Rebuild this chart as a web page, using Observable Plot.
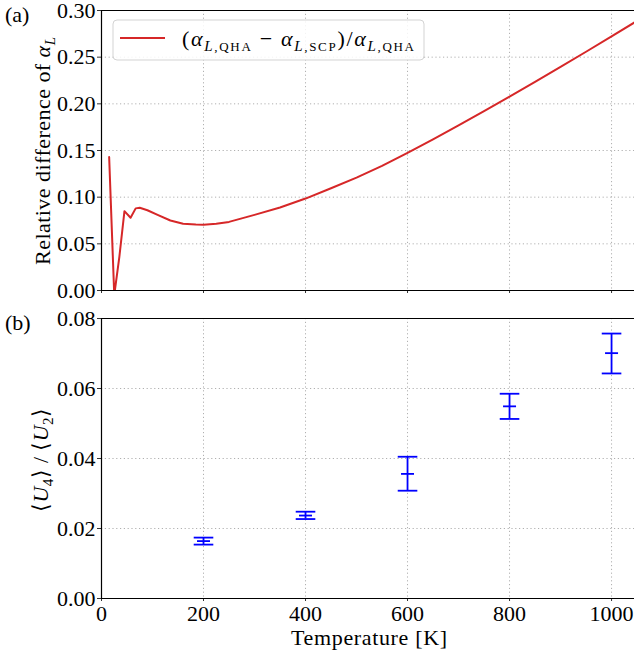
<!DOCTYPE html>
<html><head><meta charset="utf-8">
<script src="https://cdn.jsdelivr.net/npm/d3@7"></script>
<script src="https://cdn.jsdelivr.net/npm/@observablehq/plot@0.6"></script>
<style>
body{margin:0;background:#fff}
svg{display:block}
</style>
</head><body><div id="chart"></div>
<script>
// Panel (a): relative difference of alpha_L
const temperatureA = [15,25,35,45,57,67,75,90,110,135,160,185,200,225,250,300,350,400,450,500,550,600,650,700,750,800,850,900,950,1000,1045];
const relDiffA = [0.143,-0.005,0.036,0.085,0.078,0.088,0.0886,0.086,0.081,0.075,0.0715,0.0707,0.0705,0.0714,0.0735,0.081,0.089,0.0985,0.1095,0.121,0.1335,0.1475,0.162,0.177,0.1923,0.2078,0.2235,0.2395,0.2558,0.2722,0.2872];
// Panel (b): <U4>/<U2> with error bars
const temperatureB = [200,400,600,800,1000];
const ratioB = [0.0164,0.0237,0.0356,0.0549,0.0701];
const ratioLoB = [0.0154,0.0227,0.0308,0.0513,0.0643];
const ratioHiB = [0.0174,0.0248,0.0405,0.0585,0.0757];
// ticks
const xTicks = [0,200,400,600,800,1000];
const yTicksA = [0,0.05,0.10,0.15,0.20,0.25,0.30];
const yTicksB = [0,0.02,0.04,0.06,0.08];
const xDomain = [0,1045];

const dataA = temperatureA.map((t,i)=>({t, v: relDiffA[i]}));
const dataB = temperatureB.map((t,i)=>({t, v: ratioB[i], lo: ratioLoB[i], hi: ratioHiB[i]}));

const gridStyle = {stroke:"#b0b0b0", strokeOpacity:1, strokeWidth:1, strokeDasharray:"1.2,2.6"};
const cap = hw => ({draw(ctx){ctx.moveTo(-hw,0); ctx.lineTo(hw,0);}});
const styleStr = "font-family: 'Liberation Serif', serif; font-size: 22px; color: #000; background: #fff; overflow: visible;";

const plotA = Plot.plot({
  width: 634, height: 300,
  marginTop: 10, marginBottom: 10, marginLeft: 101, marginRight: 0,
  style: styleStr,
  x: {domain: xDomain},
  y: {domain: [0, 0.30]},
  marks: [
    Plot.gridX(xTicks, gridStyle),
    Plot.gridY(yTicksA, gridStyle),
    Plot.axisX(xTicks, {tickSize: 3, tickFormat: () => "", label: null, stroke: "#333"}),
    Plot.axisY(yTicksA, {tickSize: 4, tickPadding: 2, tickFormat: d => d.toFixed(2), label: null, stroke: "#333"}),
    Plot.line(dataA, {x: "t", y: "v", stroke: "#d62728", strokeWidth: 2, clip: true}),
    Plot.ruleY([0, 0.30], {stroke: "#000", strokeWidth: 1.2}),
    Plot.ruleX([0], {stroke: "#000", strokeWidth: 1.2})
  ]
});

const plotB = Plot.plot({
  width: 634, height: 358,
  marginTop: 18, marginBottom: 60, marginLeft: 101, marginRight: 0,
  style: styleStr,
  x: {domain: xDomain},
  y: {domain: [0, 0.08]},
  marks: [
    Plot.gridX(xTicks, gridStyle),
    Plot.gridY(yTicksB, gridStyle),
    Plot.axisX(xTicks, {tickSize: 3, tickPadding: 4, tickFormat: d => String(d), label: null, stroke: "#333"}),
    Plot.axisY(yTicksB, {tickSize: 4, tickPadding: 2, tickFormat: d => d.toFixed(2), label: null, stroke: "#333"}),
    Plot.ruleX(dataB, {x: "t", y1: "lo", y2: "hi", stroke: "#0000ff", strokeWidth: 1.8}),
    Plot.dot(dataB, {x: "t", y: "lo", symbol: cap(9.8), stroke: "#0000ff", strokeWidth: 1.8, r: 5}),
    Plot.dot(dataB, {x: "t", y: "hi", symbol: cap(9.8), stroke: "#0000ff", strokeWidth: 1.8, r: 5}),
    Plot.dot(dataB, {x: "t", y: "v", symbol: cap(6.5), stroke: "#0000ff", strokeWidth: 1.8, r: 5}),
    Plot.ruleY([0, 0.08], {stroke: "#000", strokeWidth: 1.2}),
    Plot.ruleX([0], {stroke: "#000", strokeWidth: 1.2})
  ]
});

const chart = document.getElementById("chart");
chart.append(plotA, plotB);

// math-like text helper
function mathText(sel, parts, subSize = 15, shift = 5) {
  let inSub = false;
  parts.forEach(p => {
    const s = sel.append("tspan").text(p.t);
    if (p.i) s.attr("font-style", "italic");
    if (p.sub && !inSub) { s.attr("dy", shift); inSub = true; }
    else if (!p.sub && inSub) { s.attr("dy", -shift); inSub = false; }
    if (p.sub) s.attr("font-size", (p.small ? subSize - 2 : subSize) + "px");
  });
  return sel;
}

const sA = d3.select(plotA);
const sB = d3.select(plotB);

// panel letters
sA.append("text").attr("x", 5).attr("y", 22).attr("text-anchor", "start").attr("font-size", "22px").text("(a)");
sB.append("text").attr("x", 5).attr("y", 30).attr("text-anchor", "start").attr("font-size", "22px").text("(b)");

// y label (a)
mathText(sA.append("text").attr("transform", "translate(50,151) rotate(-90)").attr("text-anchor", "middle")
  .attr("font-size", "22px").attr("textLength", 228).attr("lengthAdjust", "spacing"),
  [{t: "Relative difference of "}, {t: "α", i: true}, {t: "L", i: true, sub: true}]);

// y label (b)
mathText(sB.append("text").attr("transform", "translate(48,160) rotate(-90)").attr("text-anchor", "middle")
  .attr("font-size", "22px").attr("textLength", 104).attr("lengthAdjust", "spacing"),
  [{t: "⟨"}, {t: "U", i: true}, {t: "4", sub: true}, {t: "⟩ / ⟨"}, {t: "U", i: true}, {t: "2", sub: true}, {t: "⟩"}]);

// x label
sB.append("text").attr("x", 369).attr("y", 345).attr("text-anchor", "middle").attr("font-size", "22px")
  .attr("textLength", 156).attr("lengthAdjust", "spacing").text("Temperature [K]");

// legend
const lg = sA.append("g");
lg.append("rect").attr("x", 113).attr("y", 20).attr("width", 311).attr("height", 40).attr("rx", 4)
  .attr("fill", "#fff").attr("fill-opacity", 0.85).attr("stroke", "#d3d3d3").attr("stroke-width", 1);
lg.append("line").attr("x1", 120).attr("x2", 165).attr("y1", 38).attr("y2", 38).attr("stroke", "#d62728").attr("stroke-width", 2);
mathText(lg.append("text").attr("x", 182).attr("y", 46).attr("text-anchor", "start").attr("font-size", "22px")
  .attr("textLength", 232).attr("lengthAdjust", "spacing"),
  [{t: "("}, {t: "α", i: true}, {t: "L", i: true, sub: true}, {t: ",QHA", sub: true, small: true},
   {t: " − "}, {t: "α", i: true}, {t: "L", i: true, sub: true}, {t: ",SCP", sub: true, small: true},
   {t: ")/"}, {t: "α", i: true}, {t: "L", i: true, sub: true}, {t: ",QHA", sub: true, small: true}]);

// force the serif font on every text element
d3.selectAll("#chart svg").attr("font-family", "Liberation Serif");
d3.selectAll("#chart text, #chart tspan").attr("font-family", "Liberation Serif").style("font-family", "Liberation Serif");
</script>
</body></html>
